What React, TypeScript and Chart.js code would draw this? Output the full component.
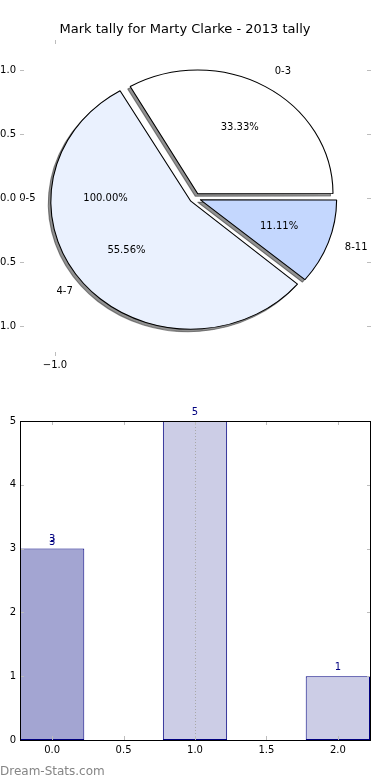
import React, { useEffect, useRef } from 'react';
import { Chart, registerables } from 'chart.js';

Chart.register(...registerables);

// ---------- data ----------
const chartTitle = 'Mark tally for Marty Clarke - 2013 tally';
const pieLabels = ['0-3', '4-7', '8-11'];
const pieValues = [3, 5, 1];
const pieColors = ['#FFFFFF', '#EAF1FE', '#C4D7FE'];
const pieExtraLabels = ['0-5'];
const pieExtraPct = ['100.00%'];
const pieExtraAnglesDeg = [180];
const pieXTicks = [-1.0];
const pieYTicks = [-1.0, -0.5, 0.0, 0.5, 1.0];

const barX = [0, 1, 2];
const barValues = [3, 5, 1];
const barColors = ['#A3A5D2', '#CCCDE6', '#CCCDE6'];
const barXTicks = [0.0, 0.5, 1.0, 1.5, 2.0];
const barYTicks = [0, 1, 2, 3, 4, 5];
const doubledLabelBars = [0];
const refLineX = 1.0;
const watermark = 'Dream-Stats.com';

// ---------- style ----------
const FONT = "'DejaVu Sans', sans-serif";
const KX = 140 / 128; // horizontal stretch of the pie (non-equal axes)
const TICK_COLOR = '#bdbdbd';
const PIE_R = 128; // drawn radius
const EXPLODE = 5; // px shift of each wedge
// Chart.js arcs shift by offset/4 and grow their radius by offset/4
const ARC_OFFSET = EXPLODE * 4;
const SHADOW_DX = -2.5;
const SHADOW_DY = 2.5;
const FAR = 2000;

const fmtAxis = (v: number) => (v < 0 ? '\u2212' : '') + Math.abs(v).toFixed(1);

function drawInwardTicks(chart: any, xs: number[], ys: number[]) {
  const ctx = chart.ctx;
  const ca = chart.chartArea;
  const xScale = chart.scales.x;
  const yScale = chart.scales.y;
  ctx.save();
  ctx.strokeStyle = TICK_COLOR;
  ctx.lineWidth = 1;
  ctx.beginPath();
  xs.forEach((v) => {
    const x = Math.round(xScale.getPixelForValue(v)) + 0.5;
    ctx.moveTo(x, ca.top);
    ctx.lineTo(x, ca.top + 4);
    ctx.moveTo(x, ca.bottom);
    ctx.lineTo(x, ca.bottom - 4);
  });
  ys.forEach((v) => {
    const y = Math.round(yScale.getPixelForValue(v)) + 0.5;
    ctx.moveTo(ca.left, y);
    ctx.lineTo(ca.left + 4, y);
    ctx.moveTo(ca.right + 1, y);
    ctx.lineTo(ca.right - 3, y);
  });
  ctx.stroke();
  ctx.restore();
}

function stretch(ctx: CanvasRenderingContext2D, cx: number) {
  ctx.translate(cx, 0);
  ctx.scale(KX, 1);
  ctx.translate(-cx, 0);
}

const piePlugin = {
  id: 'pieEllipse',
  beforeDatasetsDraw(chart: any) {
    const ctx = chart.ctx;
    const ca = chart.chartArea;
    const cx = (ca.left + ca.right) / 2;
    const meta = chart.getDatasetMeta(0);
    // shadow pass: wedges drawn far off-canvas, only their shadows land under the pie
    ctx.save();
    stretch(ctx, cx);
    ctx.translate(-FAR / KX, 0);
    ctx.shadowColor = 'rgba(35,35,35,0.5)';
    ctx.shadowOffsetX = FAR + SHADOW_DX;
    ctx.shadowOffsetY = SHADOW_DY;
    ctx.shadowBlur = 0;
    meta.data.forEach((arc: any) => arc.draw(ctx));
    ctx.restore();
    // the wedges themselves, stretched into an ellipse
    ctx.save();
    stretch(ctx, cx);
  },
  afterDatasetsDraw(chart: any) {
    const ctx = chart.ctx;
    ctx.restore();
    const ca = chart.chartArea;
    const cx = (ca.left + ca.right) / 2;
    const cy = (ca.top + ca.bottom) / 2;
    const meta = chart.getDatasetMeta(0);
    const ds = chart.data.datasets[0];
    const vals: number[] = ds.data as number[];
    const total = vals.reduce((a, b) => a + b, 0);
    const labels: string[] = chart.data.labels as string[];
    let R = PIE_R;
    let SHIFT = EXPLODE;
    ctx.save();
    ctx.font = `10px ${FONT}`;
    ctx.fillStyle = '#000';
    ctx.textBaseline = 'middle';
    const put = (a: number, r: number, shift: number, label: string, pct: string) => {
      const c = Math.cos(a);
      const s = Math.sin(a);
      const lr = 1.1 * r + shift;
      const pr = 0.6 * r + shift;
      ctx.textAlign = c > 0.0001 ? 'left' : 'right';
      ctx.fillText(label, cx + KX * lr * c, cy + lr * s);
      ctx.textAlign = 'center';
      ctx.fillText(pct, cx + KX * pr * c, cy + pr * s);
    };
    meta.data.forEach((arc: any, i: number) => {
      const p = arc.getProps(['startAngle', 'endAngle', 'outerRadius']);
      const mid = (p.startAngle + p.endAngle) / 2;
      SHIFT = (arc.options.offset || 0) / 4;
      R = p.outerRadius + SHIFT;
      put(mid, R, SHIFT, labels[i], ((vals[i] / total) * 100).toFixed(2) + '%');
    });
    pieExtraLabels.forEach((l, i) => {
      put((pieExtraAnglesDeg[i] * Math.PI) / 180, R, SHIFT, l, pieExtraPct[i]);
    });
    ctx.restore();
  },
  afterDraw(chart: any) {
    drawInwardTicks(chart, pieXTicks, pieYTicks);
  },
};

const barPlugin = {
  id: 'barExtras',
  afterDatasetsDraw(chart: any) {
    const ctx = chart.ctx;
    const ca = chart.chartArea;
    const xs = chart.scales.x;
    const ys = chart.scales.y;
    ctx.save();
    const rx = Math.round(xs.getPixelForValue(refLineX)) + 0.5;
    ctx.strokeStyle = '#a8a8a8';
    ctx.lineWidth = 1;
    ctx.setLineDash([1, 2]);
    ctx.beginPath();
    ctx.moveTo(rx, ca.top);
    ctx.lineTo(rx, ca.bottom);
    ctx.stroke();
    ctx.setLineDash([]);
    ctx.font = `10px ${FONT}`;
    ctx.fillStyle = '#000080';
    ctx.textAlign = 'center';
    ctx.textBaseline = 'alphabetic';
    barX.forEach((x, i) => {
      const px = xs.getPixelForValue(x);
      ctx.fillText(String(barValues[i]), px, ys.getPixelForValue(barValues[i] + 0.1));
      if (doubledLabelBars.includes(i)) {
        ctx.fillText(String(barValues[i]), px, ys.getPixelForValue(barValues[i] + 0.05));
      }
    });
    ctx.restore();
  },
  afterDraw(chart: any) {
    const ctx = chart.ctx;
    const ca = chart.chartArea;
    drawInwardTicks(chart, barXTicks, barYTicks);
    ctx.save();
    ctx.strokeStyle = '#000';
    ctx.lineWidth = 1;
    ctx.strokeRect(ca.left + 0.5, ca.top + 0.5, ca.right - ca.left, ca.bottom - ca.top);
    ctx.font = `12px ${FONT}`;
    ctx.fillStyle = '#858585';
    ctx.textAlign = 'left';
    ctx.textBaseline = 'alphabetic';
    ctx.fillText(watermark, 0, 375);
    ctx.restore();
  },
};

const tickFont = { family: FONT, size: 10 };

export default function App() {
  const pieRef = useRef<HTMLCanvasElement | null>(null);
  const barRef = useRef<HTMLCanvasElement | null>(null);

  useEffect(() => {
    const order = [2, 1, 0]; // Chart.js draws clockwise; matplotlib counter-clockwise
    const pie = new Chart(pieRef.current as HTMLCanvasElement, {
      type: 'pie',
      data: {
        labels: order.map((i) => pieLabels[i]),
        datasets: [
          {
            data: order.map((i) => pieValues[i]),
            backgroundColor: order.map((i) => pieColors[i]),
            borderColor: '#000000',
            borderWidth: 1,
            offset: ARC_OFFSET,
          },
        ],
      },
      options: {
        responsive: false,
        animation: false,
        rotation: 90,
        radius: PIE_R - ARC_OFFSET / 4,
        layout: { padding: { left: 0, right: 20, top: 0, bottom: 0 } },
        plugins: {
          legend: { display: false },
          tooltip: { enabled: false },
          title: {
            display: true,
            text: chartTitle,
            color: '#000',
            font: { family: FONT, size: 13, weight: 'normal' },
            padding: { top: 22.2, bottom: 2.2 },
          },
        },
        scales: {
          x: {
            type: 'linear',
            position: 'bottom',
            min: -1.25,
            max: 1.25,
            grid: { display: false, drawTicks: false },
            border: { display: false },
            afterBuildTicks: (s: any) => {
              s.ticks = pieXTicks.map((v) => ({ value: v }));
            },
            afterFit: (s: any) => {
              s.height = 44;
            },
            ticks: { font: tickFont, color: '#000', padding: 3, autoSkip: false, maxRotation: 0, callback: (v: any) => fmtAxis(Number(v)) },
          },
          y: {
            type: 'linear',
            position: 'left',
            min: -1.234,
            max: 1.234,
            grid: { display: false, drawTicks: false },
            border: { display: false },
            afterBuildTicks: (s: any) => {
              s.ticks = pieYTicks.map((v) => ({ value: v }));
            },
            afterFit: (s: any) => {
              s.width = 20;
            },
            ticks: { font: tickFont, color: '#000', padding: 4, autoSkip: false, callback: (v: any) => fmtAxis(Number(v)) },
          },
        },
      } as any,
      plugins: [piePlugin],
    });

    const bar = new Chart(barRef.current as HTMLCanvasElement, {
      type: 'bar',
      data: {
        datasets: [
          {
            data: barX.map((x, i) => ({ x, y: barValues[i] })),
            backgroundColor: barColors,
            borderColor: '#000080',
            borderWidth: 1,
            borderSkipped: false,
            // width is relative to the 0.5 tick spacing: 0.9 * 0.5 = 0.45 data units
            barPercentage: 0.9,
            categoryPercentage: 1,
          },
        ],
      },
      options: {
        responsive: false,
        animation: false,
        layout: { padding: { left: 0, right: 20, top: 21, bottom: 0 } },
        plugins: { legend: { display: false }, tooltip: { enabled: false } },
        scales: {
          x: {
            type: 'linear',
            min: -0.225,
            max: 2.225,
            offset: false,
            grid: { display: false, drawTicks: false },
            border: { display: false },
            afterBuildTicks: (s: any) => {
              s.ticks = barXTicks.map((v) => ({ value: v }));
            },
            afterFit: (s: any) => {
              s.height = 40;
            },
            ticks: { font: tickFont, color: '#000', padding: 4, autoSkip: false, maxRotation: 0, callback: (v: any) => Number(v).toFixed(1) },
          },
          y: {
            type: 'linear',
            min: 0,
            max: 5,
            grid: { display: false, drawTicks: false },
            border: { display: false },
            afterBuildTicks: (s: any) => {
              s.ticks = barYTicks.map((v) => ({ value: v }));
            },
            afterFit: (s: any) => {
              s.width = 20;
            },
            ticks: { font: tickFont, color: '#000', padding: 4, autoSkip: false, callback: (v: any) => String(v) },
          },
        },
      } as any,
      plugins: [barPlugin],
    });

    return () => {
      pie.destroy();
      bar.destroy();
    };
  }, []);

  return (
    <div style={{ position: 'absolute', left: 0, top: 0, width: 390, height: 780, background: '#fff' }}>
      <canvas ref={pieRef} width={390} height={400} style={{ display: 'block', width: 390, height: 400 }} />
      <canvas ref={barRef} width={390} height={380} style={{ display: 'block', width: 390, height: 380 }} />
    </div>
  );
}
